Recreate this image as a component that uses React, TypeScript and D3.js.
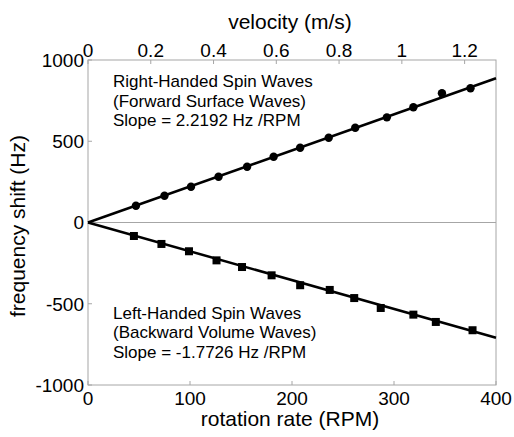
import { useEffect, useRef } from 'react'
import * as d3 from 'd3'

// rotation rate (RPM) and frequency shift (Hz)
const RH_RPM = [47, 75, 101, 128, 156, 182, 208, 236, 262, 293, 319, 347, 375]
const RH_HZ = [103, 165, 220, 282, 343, 405, 460, 522, 583, 647, 709, 795, 826]
const LH_RPM = [45, 72, 99, 126, 151, 180, 208, 237, 261, 287, 319, 341, 377]
const LH_HZ = [-83, -132, -177, -233, -274, -325, -386, -415, -465, -526, -567, -612, -663]

const RH_SLOPE = 2.2192
const LH_SLOPE = -1.7726

const X_TICKS = [0, 100, 200, 300, 400]
const Y_TICKS = [-1000, -500, 0, 500, 1000]
const V_TICKS = [0, 0.2, 0.4, 0.6, 0.8, 1, 1.2]

const RH_TEXT = ['Right-Handed Spin Waves', '(Forward Surface Waves)', 'Slope = 2.2192 Hz /RPM']
const LH_TEXT = ['Left-Handed Spin Waves', '(Backward Volume Waves)', 'Slope = -1.7726 Hz /RPM']

const FONT = '"Liberation Sans", Arial, Helvetica, sans-serif'
const GRAY = '#a6a6a6'

export default function App() {
  const svgRef = useRef<SVGSVGElement>(null)

  useEffect(() => {
    if (!svgRef.current) return
    const svg = d3.select(svgRef.current)
    svg.selectAll('*').remove()

    const W = 514
    const H = 437
    const left = 88, right = 496, top = 60, bottom = 385

    svg.attr('width', W).attr('height', H).attr('viewBox', `0 0 ${W} ${H}`)
      .style('font-family', FONT)

    const x = d3.scaleLinear().domain([0, 400]).range([left, right])
    const v = d3.scaleLinear().domain([0, 1.3]).range([left, right])
    const y = d3.scaleLinear().domain([-1000, 1000]).range([bottom, top])

    // frame
    svg.append('rect')
      .attr('x', left).attr('y', top)
      .attr('width', right - left).attr('height', bottom - top)
      .attr('fill', '#fff').attr('stroke', GRAY).attr('stroke-width', 1)

    // zero line
    svg.append('line')
      .attr('x1', left).attr('x2', right)
      .attr('y1', y(0)).attr('y2', y(0))
      .attr('stroke', GRAY).attr('stroke-width', 1)

    // inward ticks
    const tick = 4
    X_TICKS.forEach((t) => {
      svg.append('line')
        .attr('x1', x(t)).attr('x2', x(t))
        .attr('y1', bottom).attr('y2', bottom - tick)
        .attr('stroke', GRAY)
    })
    V_TICKS.forEach((t) => {
      svg.append('line')
        .attr('x1', v(t)).attr('x2', v(t))
        .attr('y1', top).attr('y2', top + tick)
        .attr('stroke', GRAY)
    })
    Y_TICKS.forEach((t) => {
      svg.append('line')
        .attr('x1', left).attr('x2', left + tick)
        .attr('y1', y(t)).attr('y2', y(t))
        .attr('stroke', GRAY)
    })

    // tick labels
    svg.append('g').selectAll('text')
      .data(X_TICKS).join('text')
      .attr('x', (d) => x(d)).attr('y', 405)
      .attr('text-anchor', 'middle').attr('font-size', 19).attr('fill', '#000')
      .text((d) => String(d))

    svg.append('g').selectAll('text')
      .data(V_TICKS).join('text')
      .attr('x', (d) => v(d)).attr('y', 57)
      .attr('text-anchor', 'middle').attr('font-size', 19).attr('fill', '#000')
      .text((d) => String(d))

    svg.append('g').selectAll('text')
      .data(Y_TICKS).join('text')
      .attr('x', 84).attr('y', (d) => y(d) + 6.8)
      .attr('text-anchor', 'end').attr('font-size', 19).attr('fill', '#000')
      .text((d) => String(d))

    // axis titles
    svg.append('text')
      .attr('x', 290).attr('y', 29)
      .attr('text-anchor', 'middle').attr('font-size', 21)
      .text('velocity (m/s)')

    svg.append('text')
      .attr('x', 290).attr('y', 426)
      .attr('text-anchor', 'middle').attr('font-size', 21)
      .text('rotation rate (RPM)')

    svg.append('text')
      .attr('transform', 'translate(25,226) rotate(-90)')
      .attr('text-anchor', 'middle').attr('font-size', 21)
      .text('frequency shift (Hz)')

    // fit lines
    const fit = (slope: number) => d3.line<number>()
      .x((d) => x(d)).y((d) => y(slope * d))([0, 400])

    svg.append('path').attr('d', fit(RH_SLOPE))
      .attr('fill', 'none').attr('stroke', '#000').attr('stroke-width', 2.5)
    svg.append('path').attr('d', fit(LH_SLOPE))
      .attr('fill', 'none').attr('stroke', '#000').attr('stroke-width', 2.5)

    // markers
    svg.append('g').selectAll('circle')
      .data(RH_RPM).join('circle')
      .attr('cx', (d) => x(d)).attr('cy', (d, i) => y(RH_HZ[i]))
      .attr('r', 4.2).attr('fill', '#000')

    const s = 8
    svg.append('g').selectAll('rect')
      .data(LH_RPM).join('rect')
      .attr('x', (d) => x(d) - s / 2).attr('y', (d, i) => y(LH_HZ[i]) - s / 2)
      .attr('width', s).attr('height', s).attr('fill', '#000')

    // annotations
    const note = (lines: string[], baseY: number) => {
      lines.forEach((l, i) => {
        svg.append('text')
          .attr('x', 113).attr('y', baseY + i * 19.5)
          .attr('font-size', 17).attr('fill', '#000')
          .text(l)
      })
    }
    note(RH_TEXT, 87)
    note(LH_TEXT, 318.5)
  }, [])

  return <svg ref={svgRef} style={{ position: 'absolute', left: 0, top: 0, background: '#fff' }} />
}
